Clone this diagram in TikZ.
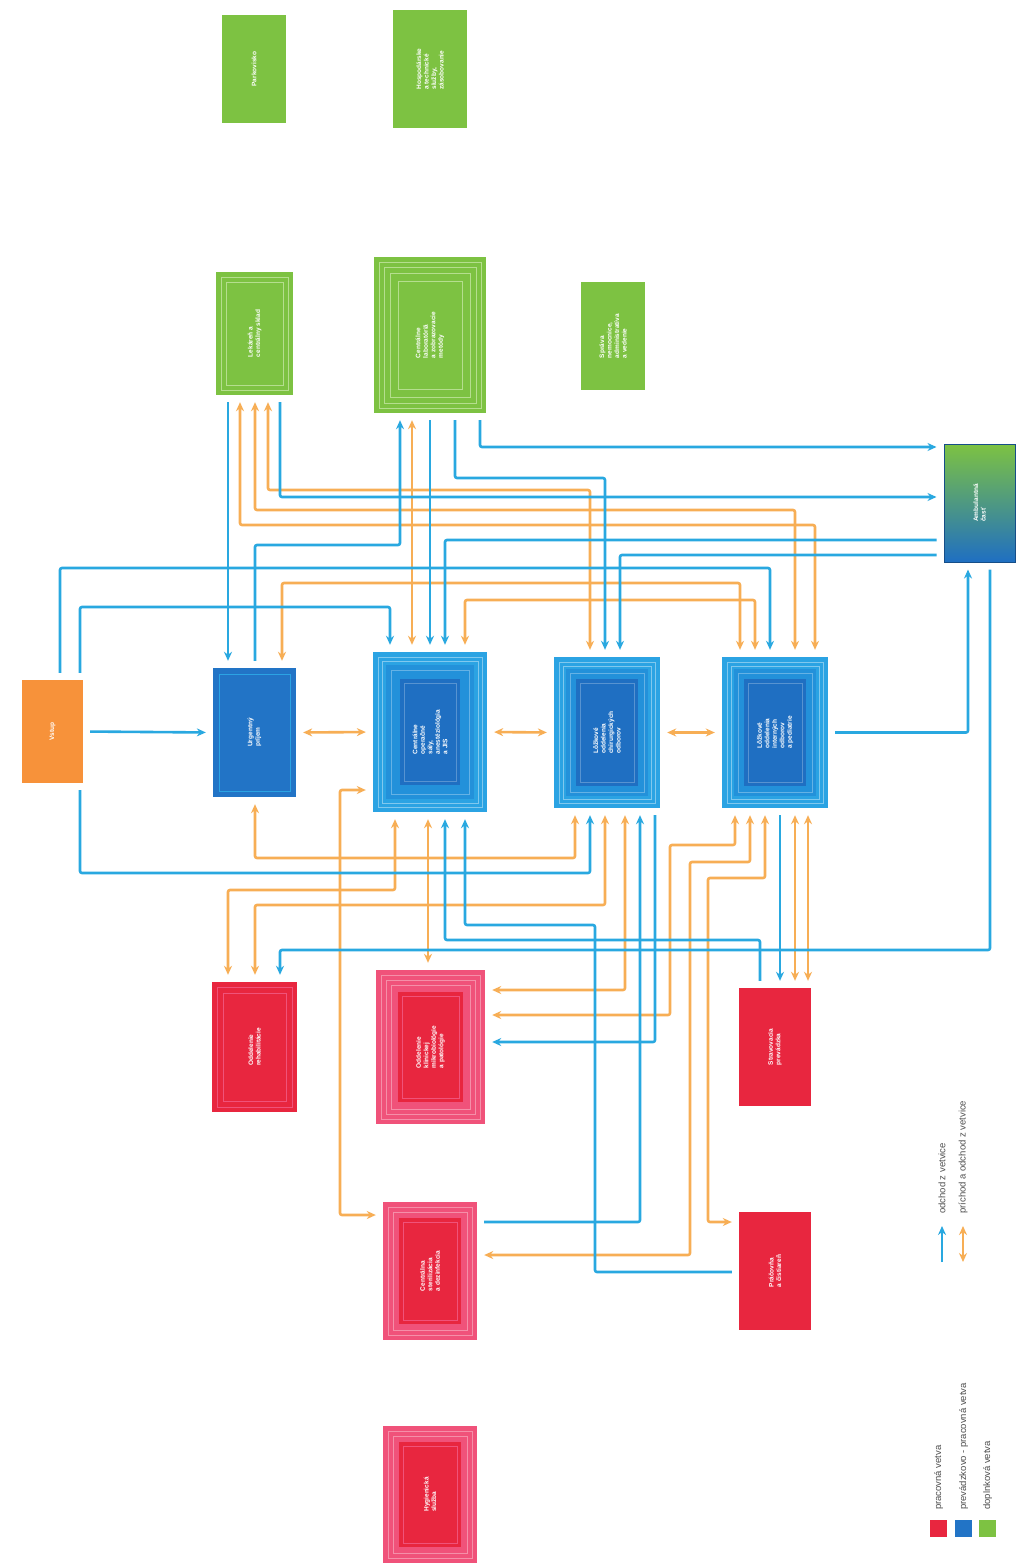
\documentclass[tikz,border=0pt]{standalone}
\usepackage{fontspec}
\setmainfont{Liberation Sans}
\usetikzlibrary{arrows.meta,fit}
\definecolor{arrB}{HTML}{29A8E0}
\definecolor{arrO}{HTML}{F7AE55}
\definecolor{gr}{HTML}{7DC242}
\definecolor{grl}{HTML}{B5DE8E}
\definecolor{bo}{HTML}{2BA3E3}
\definecolor{bm}{HTML}{2391DA}
\definecolor{bi}{HTML}{1F6FC2}
\definecolor{bs}{HTML}{2274C6}
\definecolor{rd}{HTML}{E8263F}
\definecolor{rp}{HTML}{F0527A}
\definecolor{orb}{HTML}{F7923A}
\definecolor{lgt}{HTML}{505050}
\newcommand\bxfill[3]{\fill[#2] ([shift={(#3,#3)}]#1.north west) rectangle ([shift={(-#3,-#3)}]#1.south east);}
\newcommand\bxline[3]{\draw[#2,line width=0.5pt] ([shift={(#3,#3)}]#1.north west) rectangle ([shift={(-#3,-#3)}]#1.south east);}
\tikzset{
  bx/.style={inner sep=0pt,draw=none},
  lab/.style={rotate=90,text=white,font=\fontsize{6.5}{7.5}\selectfont\bfseries,align=left,inner sep=0pt},
  lgtxt/.style={rotate=90,text=lgt,font=\fontsize{9.5}{11}\selectfont,inner sep=0pt,anchor=west},
  bl/.style={draw=arrB,line width=2.6pt,-{Stealth[length=9pt,width=8pt]},shorten >=7pt,shorten <=7pt,rounded corners=2pt},
  orl/.style={draw=arrO,line width=2.6pt,{Stealth[length=9pt,width=8pt]}-{Stealth[length=9pt,width=8pt]},shorten >=7pt,shorten <=7pt,rounded corners=2pt},
}
\begin{document}
\begin{tikzpicture}[x=1pt,y=-1pt]
\fill[white] (0,0) rectangle (1017,1566);
\useasboundingbox (0,0) rectangle (1017,1566);

% ---------- green boxes ----------
\node[bx,fit={(222,15)(286,123)},fill=gr] (G1) {};
\node[lab] at (G1.center) {Parkovisko};
\node[bx,fit={(393,10)(467,128)},fill=gr] (G2) {};
\node[lab] at (G2.center) {Hospodárske\\a technické\\služby,\\zásobovanie};
\node[bx,fit={(216,272)(293,395)},fill=gr] (G3) {};
\bxline{G3}{grl}{5}\bxline{G3}{grl}{10}
\node[lab] at (G3.center) {Lekáreň a\\centrálny sklad};
\node[bx,fit={(374,257)(486,413)},fill=gr] (G4) {};
\bxline{G4}{grl}{5}\bxline{G4}{grl}{10}\bxline{G4}{grl}{16}\bxline{G4}{grl}{24}
\node[lab] at (G4.center) {Centrálne\\laboratóriá\\a zobrazovacie\\metódy};
\node[bx,fit={(581,282)(645,390)},fill=gr] (G5) {};
\node[lab] at (G5.center) {Správa\\nemocnice,\\administratíva\\a vedenie};

% ---------- entrance ----------
\node[bx,fit={(22,680)(83,783)},fill=orb] (O) {};
\node[lab] at (O.center) {Vstup};

% ---------- blue boxes ----------
\node[bx,fit={(213,668)(296,797)},fill=bs] (B1) {};
\bxline{B1}{bo}{6}
\node[lab] at (B1.center) {Urgentný\\príjem};

\node[bx,fit={(373,652)(487,812)},fill=bo] (B2) {};
\bxline{B2}{white!40!bo}{5}\bxline{B2}{white!40!bo}{9}
\bxfill{B2}{bm}{13}\bxline{B2}{white!30!bm}{18}
\bxfill{B2}{bi}{27}\bxline{B2}{white!25!bi}{31}
\node[lab] at (B2.center) {Centrálne\\operačné\\sály,\\anestéziológia\\a JIS};

\node[bx,fit={(554,657)(660,808)},fill=bo] (B3) {};
\bxline{B3}{white!40!bo}{5}\bxline{B3}{white!40!bo}{9}
\bxfill{B3}{bm}{12}\bxline{B3}{white!30!bm}{16}
\bxfill{B3}{bi}{22}\bxline{B3}{white!25!bi}{26}
\node[lab] at (B3.center) {Lôžkové\\oddelenia\\chirurgických\\odborov};

\node[bx,fit={(722,657)(828,808)},fill=bo] (B4) {};
\bxline{B4}{white!40!bo}{5}\bxline{B4}{white!40!bo}{9}
\bxfill{B4}{bm}{12}\bxline{B4}{white!30!bm}{16}
\bxfill{B4}{bi}{22}\bxline{B4}{white!25!bi}{26}
\node[lab] at (B4.center) {Lôžkové\\oddelenia\\interných\\odborov\\a pediatrie};

\node[bx,fit={(944,444)(1015,562)},top color=gr,bottom color=bi,draw=bi!70!black,line width=1pt] (B5) {};
\node[lab] at (B5.center) {Ambulantná\\časť};

% ---------- red boxes ----------
\node[bx,fit={(212,982)(297,1112)},fill=rd] (R1) {};
\bxline{R1}{rp}{5}\bxline{R1}{rp}{11}
\node[lab] at (R1.center) {Oddelenie\\rehabilitácie};

\node[bx,fit={(376,970)(485,1124)},fill=rp] (R2) {};
\bxline{R2}{white!35!rp}{5}\bxline{R2}{white!35!rp}{10}\bxline{R2}{white!35!rp}{15}
\bxfill{R2}{rd}{22}\bxline{R2}{rp}{26}
\node[lab] at (R2.center) {Oddelenie\\klinickej\\mikrobiológie\\a patológie};

\node[bx,fit={(739,988)(811,1106)},fill=rd] (R3) {};
\node[lab] at (R3.center) {Stravovacia\\prevádzka};

\node[bx,fit={(383,1202)(477,1340)},fill=rp] (R4) {};
\bxline{R4}{white!35!rp}{5}\bxline{R4}{white!35!rp}{10}
\bxfill{R4}{rd}{16}\bxline{R4}{rp}{20}
\node[lab] at (R4.center) {Centrálna\\sterilizácia\\a dezinfekcia};

\node[bx,fit={(739,1212)(811,1330)},fill=rd] (R5) {};
\node[lab] at (R5.center) {Práčovňa\\a čistiareň};

\node[bx,fit={(383,1426)(477,1563)},fill=rp] (R6) {};
\bxline{R6}{white!35!rp}{5}\bxline{R6}{white!35!rp}{10}
\bxfill{R6}{rd}{16}\bxline{R6}{rp}{20}
\node[lab] at (R6.center) {Hygienická\\služba};

% ---------- top connectors ----------
\draw[orl] (240,0 |- G3.south) -- (240,525) -- (815,525) -- (815,0 |- B4.north);
\draw[orl] (255,0 |- G3.south) -- (255,510) -- (795,510) -- (795,0 |- B4.north);
\draw[orl] (268,0 |- G3.south) -- (268,490) -- (590,490) -- (590,0 |- B3.north);
\draw[orl] (282,0 |- B1.north) -- (282,583) -- (740,583) -- (740,0 |- B4.north);
\draw[orl] (465,0 |- B2.north) -- (465,600) -- (755,600) -- (755,0 |- B4.north);
\draw[orl] (412,0 |- G4.south) -- (412,0 |- B2.north);

\draw[bl] (228,0 |- G3.south) -- (228,0 |- B1.north);
\draw[bl] (255,0 |- B1.north) -- (255,545) -- (400,545) -- (400,0 |- G4.south);
\draw[bl] (280,0 |- G3.south) -- (280,497) -- (B5.west |- 0,497);
\draw[bl] (430,0 |- G4.south) -- (430,0 |- B2.north);
\draw[bl] (455,0 |- G4.south) -- (455,478) -- (605,478) -- (605,0 |- B3.north);
\draw[bl] (480,0 |- G4.south) -- (480,447) -- (B5.west |- 0,447);
\draw[bl] (80,0 |- O.north) -- (80,607) -- (390,607) -- (390,0 |- B2.north);
\draw[bl] (60,0 |- O.north) -- (60,568) -- (770,568) -- (770,0 |- B4.north);
\draw[bl] (B5.west |- 0,540) -- (445,540) -- (445,0 |- B2.north);
\draw[bl] (B5.west |- 0,555) -- (620,555) -- (620,0 |- B3.north);

% ---------- middle row ----------
\draw[bl] (O.east) -- (B1.west);
\draw[orl] (B1.east) -- (B2.west);
\draw[orl] (B2.east) -- (B3.west);
\draw[orl] (B3.east) -- (B4.west);
\draw[bl] (B4.east) -- (968,0 |- B4.east) -- (968,0 |- B5.south);

% ---------- bottom connectors ----------
\draw[orl] (255,0 |- B1.south) -- (255,858) -- (575,858) -- (575,0 |- B3.south);
\draw[orl] (395,0 |- B2.south) -- (395,890) -- (228,890) -- (228,0 |- R1.north);
\draw[orl] (605,0 |- B3.south) -- (605,905) -- (255,905) -- (255,0 |- R1.north);
\draw[orl] (B2.west |- 0,790) -- (340,790) -- (340,1215) -- (R4.west |- 0,1215);
\draw[orl] (428,0 |- B2.south) -- (428,0 |- R2.north);
\draw[orl] (625,0 |- B3.south) -- (625,990) -- (R2.east |- 0,990);
\draw[orl] (735,0 |- B4.south) -- (735,845) -- (670,845) -- (670,1015) -- (R2.east |- 0,1015);
\draw[orl] (750,0 |- B4.south) -- (750,862) -- (690,862) -- (690,1255) -- (R4.east |- 0,1255);
\draw[orl] (765,0 |- B4.south) -- (765,878) -- (708,878) -- (708,1222) -- (R5.west |- 0,1222);
\draw[orl] (795,0 |- B4.south) -- (795,0 |- R3.north);
\draw[orl] (808,0 |- B4.south) -- (808,0 |- R3.north);

\draw[bl] (80,0 |- O.south) -- (80,873) -- (590,873) -- (590,0 |- B3.south);
\draw[bl] (990,0 |- B5.south) -- (990,950) -- (280,950) -- (280,0 |- R1.north);
\draw[bl] (780,0 |- B4.south) -- (780,0 |- R3.north);
\draw[bl] (R4.east |- 0,1222) -- (640,1222) -- (640,0 |- B3.south);
\draw[bl] (R5.west |- 0,1272) -- (595,1272) -- (595,925) -- (465,925) -- (465,0 |- B2.south);
\draw[bl] (760,0 |- R3.north) -- (760,940) -- (445,940) -- (445,0 |- B2.south);
\draw[bl] (655,0 |- B3.south) -- (655,1042) -- (R2.east |- 0,1042);

% ---------- legend ----------
\node[bx,fit={(930,1520)(947,1537)},fill=rd] (L1) {};
\node[bx,fit={(955,1520)(972,1537)},fill=bs] (L2) {};
\node[bx,fit={(979,1520)(996,1537)},fill=gr] (L3) {};
\node[lgtxt] (L1t) at (938.5,1510) {pracovná vetva};
\node[lgtxt] (L2t) at (963.5,1510) {prevádzkovo - pracovná vetva};
\node[lgtxt] (L3t) at (987.5,1510) {doplnková vetva};
\coordinate (la1) at (942,1262);
\coordinate (la2) at (942,1226);
\coordinate (lb1) at (963,1262);
\coordinate (lb2) at (963,1226);
\draw[bl,shorten >=0pt,shorten <=0pt] (la1) -- (la2);
\draw[orl,shorten >=0pt,shorten <=0pt] (lb1) -- (lb2);
\node[lgtxt] (L4t) at (942,1214) {odchod z vetvice};
\node[lgtxt] (L5t) at (963,1214) {príchod a odchod z vetvice};
\end{tikzpicture}
\end{document}
